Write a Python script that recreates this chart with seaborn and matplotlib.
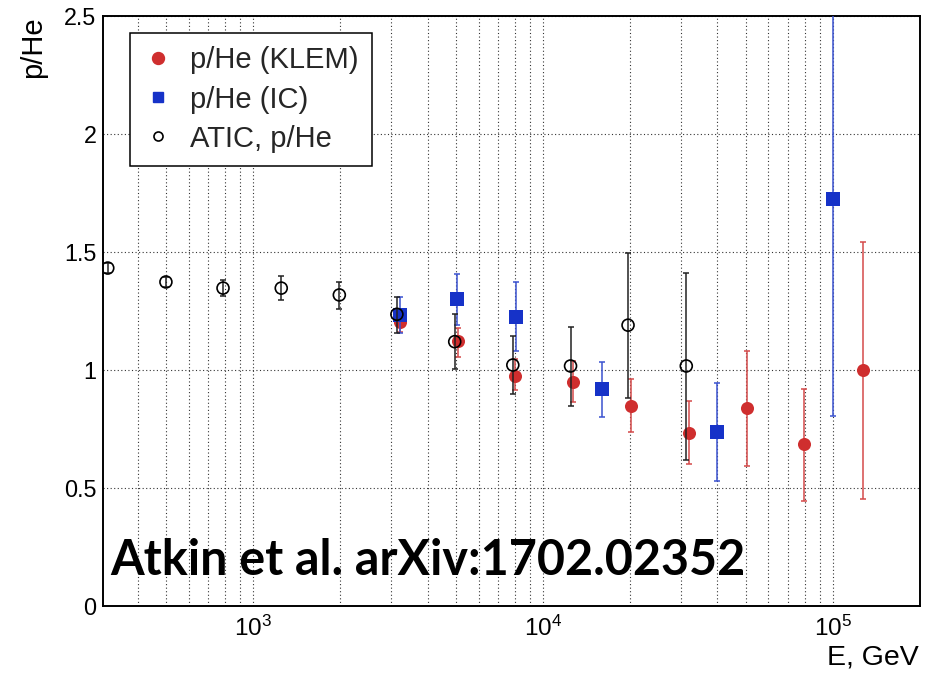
import numpy as np
import pandas as pd
import matplotlib
matplotlib.use("Agg")
import matplotlib.pyplot as plt
import seaborn as sns
from matplotlib.lines import Line2D
from matplotlib.ticker import FixedLocator, FixedFormatter, NullFormatter

# ---------------- data ----------------
atic_E = [315, 500, 787, 1250, 1983, 3133, 4960, 7870, 12450, 19660, 31230]
atic_r = [1.432, 1.373, 1.347, 1.347, 1.318, 1.236, 1.120, 1.021, 1.017, 1.190, 1.017]
atic_lo = [0.02, 0.02, 0.035, 0.05, 0.06, 0.078, 0.116, 0.123, 0.168, 0.31, 0.40]
atic_hi = [0.02, 0.02, 0.035, 0.05, 0.055, 0.075, 0.116, 0.124, 0.166, 0.304, 0.393]

klem_E = [3220, 5090, 7990, 12680, 20050, 31900, 50470, 79400, 127000]
klem_r = [1.205, 1.123, 0.975, 0.950, 0.849, 0.734, 0.838, 0.686, 0.998]
klem_lo = [0.043, 0.07, 0.06, 0.087, 0.113, 0.134, 0.245, 0.24, 0.546]
klem_hi = [0.043, 0.055, 0.07, 0.087, 0.113, 0.135, 0.242, 0.234, 0.545]

ic_E = [3220, 5060, 8040, 16000, 39960, 100000]
ic_r = [1.233, 1.300, 1.226, 0.918, 0.739, 1.725]
ic_lo = [0.076, 0.11, 0.146, 0.118, 0.208, 0.92]
ic_hi = [0.076, 0.107, 0.148, 0.117, 0.207, 0.92]

labels = ["p/He (KLEM)", "p/He (IC)", "ATIC, p/He"]
y_ticks = [0, 0.5, 1, 1.5, 2, 2.5]
y_ticklabels = ["0", "0.5", "1", "1.5", "2", "2.5"]
x_ticks = [1e3, 1e4, 1e5]
x_ticklabels = [r"$\mathregular{10^{3}}$", r"$\mathregular{10^{4}}$", r"$\mathregular{10^{5}}$"]
annotation = "Atkin et al. arXiv:1702.02352"

RED = "#cf2e2e"
RED_ERR = "#d44a4a"
BLUE = "#1632c8"
BLUE_ERR = "#3a52d0"

# ---------------- style ----------------
sns.set_theme(style="white")
plt.rcParams['font.family'] = ['Liberation Sans', 'DejaVu Sans']
plt.rcParams['mathtext.fontset'] = 'custom'
plt.rcParams['mathtext.rm'] = 'Liberation Sans'
plt.rcParams['mathtext.it'] = 'Liberation Sans:italic'

W, H = 930, 674
fig = plt.figure(figsize=(9.3, 6.74), dpi=100)
x0, x1, ytop, ybot = 103.3, 920, 16, 606
ax = fig.add_axes([x0 / W, (H - ybot) / H, (x1 - x0) / W, (ybot - ytop) / H])

ax.set_xscale("log")
ax.set_xlim(304, 2.0e5)
ax.set_ylim(0, 2.5)

# grid
grid_kw = dict(color="#333333", linestyle=(0, (1, 2.2)), linewidth=0.8)
ax.xaxis.grid(True, which="both", **grid_kw)
ax.yaxis.grid(True, which="major", **grid_kw)
ax.set_axisbelow(True)

# error bars
ax.errorbar(klem_E, klem_r, yerr=[klem_lo, klem_hi], fmt="none", ecolor=RED_ERR,
            elinewidth=1.1, capsize=2.2, capthick=1.1, zorder=3)
ax.errorbar(ic_E, ic_r, yerr=[ic_lo, ic_hi], fmt="none", ecolor=BLUE_ERR,
            elinewidth=1.1, capsize=2.2, capthick=1.1, zorder=4)
ax.errorbar(atic_E, atic_r, yerr=[atic_lo, atic_hi], fmt="none", ecolor="#222222",
            elinewidth=1.1, capsize=2.5, capthick=1.1, zorder=5)

# markers via seaborn
df_k = pd.DataFrame({"E": klem_E, "r": klem_r})
df_i = pd.DataFrame({"E": ic_E, "r": ic_r})
df_a = pd.DataFrame({"E": atic_E, "r": atic_r})
sns.scatterplot(data=df_k, x="E", y="r", marker="o", color=RED, s=9.4**2,
                linewidth=0, ax=ax, zorder=3.5, legend=False)
sns.scatterplot(data=df_i, x="E", y="r", marker="s", color=BLUE, s=9.4**2,
                linewidth=0, ax=ax, zorder=4.5, legend=False)
sns.scatterplot(data=df_a, x="E", y="r", marker="o", facecolor="none", edgecolor="black",
                s=8.6**2, linewidth=1.2, ax=ax, zorder=5.5, legend=False)

# ticks
ax.set_yticks(y_ticks)
ax.set_yticklabels(y_ticklabels)
ax.yaxis.set_minor_locator(FixedLocator(np.round(np.arange(0, 2.51, 0.1), 2)))
ax.set_xticks(x_ticks)
ax.set_xticklabels(x_ticklabels)
minors = [m * 10**d for d in (2, 3, 4, 5) for m in range(2, 10)]
ax.xaxis.set_minor_locator(FixedLocator(minors))
ax.xaxis.set_minor_formatter(NullFormatter())
ax.tick_params(axis="both", which="both", direction="in", top=False, right=False,
               colors="black", width=1.1)
ax.tick_params(axis="y", which="major", length=17.5, pad=5, labelsize=16.8)
ax.tick_params(axis="y", which="minor", length=8.8)
ax.tick_params(axis="x", which="major", length=13, pad=7, labelsize=17.5)
ax.tick_params(axis="x", which="minor", length=6.5)
ax.set_xlabel("")
ax.set_ylabel("")

for sp in ax.spines.values():
    sp.set_visible(True)
    sp.set_color("black")
    sp.set_linewidth(1.4)

# axis titles
ax.text(-0.086, 1.0, "p/He", transform=ax.transAxes, rotation=90,
        ha="center", va="top", fontsize=21, color="black")
fig.text(919 / W, (H - 665) / H, "E, GeV", ha="right", va="baseline",
         fontsize=20.5, color="black")

# legend
handles = [
    Line2D([], [], marker="o", ls="none", color=RED, markersize=8.6, mec=RED),
    Line2D([], [], marker="s", ls="none", color=BLUE, markersize=6.5, mec=BLUE),
    Line2D([], [], marker="o", ls="none", mfc="none", mec="black", markersize=6.5, mew=1.2),
]
leg = ax.legend(handles, labels, loc="upper left",
                bbox_to_anchor=((130 - x0) / (x1 - x0), (ybot - 33) / (ybot - ytop)),
                prop={"family": "Liberation Sans", "size": 21},
                frameon=True, fancybox=False, edgecolor="black", framealpha=1,
                borderpad=0.46, handlelength=1.0, handletextpad=0.6,
                labelspacing=0.38, borderaxespad=0)
leg.get_frame().set_linewidth(1.1)
leg.set_zorder(10)

# big annotation
t = fig.text(110 / W, (H - 575) / H, annotation, fontfamily=["Lato", "DejaVu Sans"],
             fontweight="bold", fontsize=36, ha="left", va="baseline", color="black",
             zorder=20)
fig.canvas.draw()
w = t.get_window_extent().width
t.set_fontsize(36 * 635 / w)

fig.savefig("out.png", dpi=100)
